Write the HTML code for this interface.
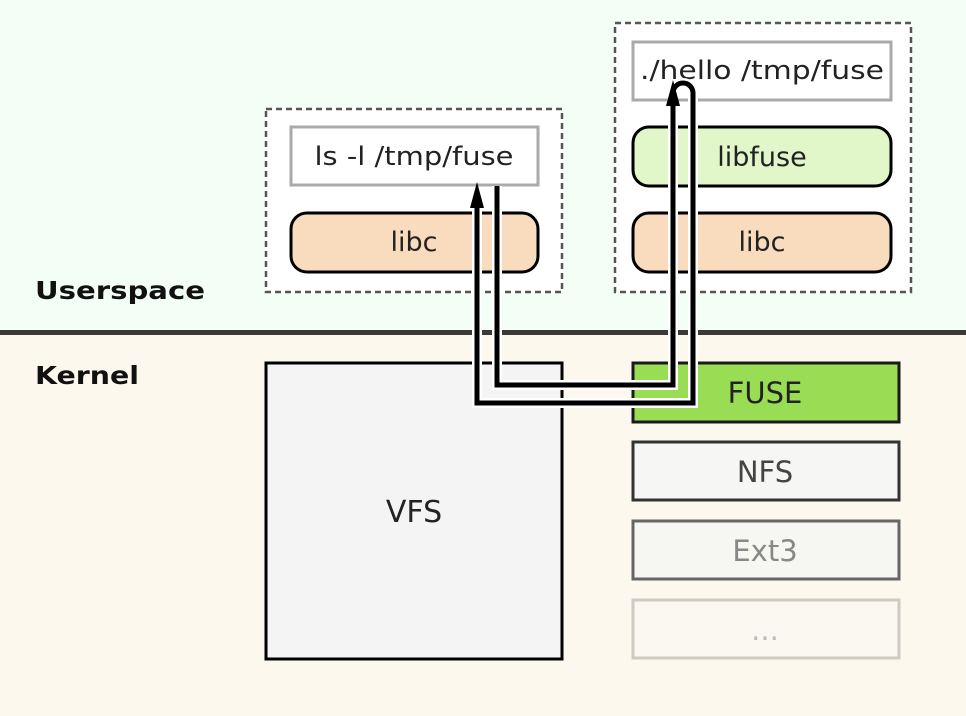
<!DOCTYPE html>
<html><head><meta charset="utf-8"><style>
html,body{margin:0;padding:0;background:#fff}
svg{display:block}
text{font-family:"DejaVu Sans","Liberation Sans",sans-serif}
</style></head><body>
<svg width="966" height="716" viewBox="0 0 966 716" xmlns="http://www.w3.org/2000/svg">
<rect x="0" y="0" width="966" height="332" fill="#f3fef6"/>
<rect x="0" y="332" width="966" height="384" fill="#fcf8ee"/>
<rect x="0" y="330" width="966" height="5" fill="#3a3a3a"/>

<text x="35" y="299" font-size="25" font-weight="bold" fill="#111" textLength="170" lengthAdjust="spacingAndGlyphs">Userspace</text>
<text x="35" y="384" font-size="25" font-weight="bold" fill="#111" textLength="104" lengthAdjust="spacingAndGlyphs">Kernel</text>

<!-- left process -->
<rect x="266" y="109" width="296" height="183" fill="#fff" stroke="#555" stroke-width="2.5" stroke-dasharray="6,4"/>
<rect x="291" y="127" width="247" height="58" fill="#fff" stroke="#aaa" stroke-width="3"/>
<text x="414" y="165" font-size="26" fill="#222" text-anchor="middle" textLength="199" lengthAdjust="spacingAndGlyphs">ls -l /tmp/fuse</text>
<rect x="291" y="213" width="247" height="59" rx="16" fill="#f9dcbd" stroke="#000" stroke-width="3"/>
<text x="414" y="251" font-size="27" fill="#222" text-anchor="middle">libc</text>

<!-- right process -->
<rect x="615" y="23" width="296" height="269" fill="#fff" stroke="#555" stroke-width="2.5" stroke-dasharray="6,4"/>
<rect x="633" y="42" width="258" height="58" fill="#fff" stroke="#aaa" stroke-width="3"/>
<text x="762" y="79" font-size="26" fill="#222" text-anchor="middle" textLength="244" lengthAdjust="spacingAndGlyphs">./hello /tmp/fuse</text>
<rect x="633" y="127" width="258" height="59" rx="16" fill="#e1f6c9" stroke="#000" stroke-width="3"/>
<text x="762" y="166" font-size="27" fill="#222" text-anchor="middle">libfuse</text>
<rect x="633" y="213" width="258" height="59" rx="16" fill="#f9dcbd" stroke="#000" stroke-width="3"/>
<text x="762" y="251" font-size="27" fill="#222" text-anchor="middle">libc</text>

<!-- kernel -->
<rect x="266" y="363" width="296" height="296" fill="#f4f4f4" stroke="#000" stroke-width="3"/>
<text x="414" y="522" font-size="30" fill="#222" text-anchor="middle">VFS</text>
<rect x="633" y="363" width="266" height="59" fill="#99dd55" stroke="#1a1a1a" stroke-width="3"/>
<text x="765" y="403" font-size="29" fill="#222" text-anchor="middle">FUSE</text>
<rect x="633" y="442" width="266" height="58" fill="#f6f6f4" stroke="#333" stroke-width="3"/>
<text x="765" y="482" font-size="29" fill="#444" text-anchor="middle">NFS</text>
<rect x="633" y="521" width="266" height="58" fill="#f6f6f3" stroke="#666" stroke-width="3"/>
<text x="765" y="561" font-size="29" fill="#888" text-anchor="middle">Ext3</text>
<rect x="633" y="600" width="266" height="58" fill="#fbf7f1" stroke="#cfcbc2" stroke-width="3"/>
<text x="765" y="640" font-size="29" fill="#bbb" text-anchor="middle">...</text>

<!-- connectors: white casing -->
<g fill="none" stroke="#fff" stroke-width="10" stroke-linejoin="miter">
<path d="M497 186 V385 H673 V105"/>
<path d="M477 198 V403 H693 V93 A10 10 0 0 0 673 93"/>
</g>
<g fill="none" stroke="#000" stroke-width="5" stroke-linejoin="miter">
<path d="M497 186 V385 H673 V105"/>
<path d="M477 198 V403 H693 V93 A10 10 0 0 0 673 93"/>
</g>
<polygon points="673,80 666,106 680,106" fill="#000"/>
<polygon points="477,182 470,208 484,208" fill="#000"/>
</svg>
</body></html>
